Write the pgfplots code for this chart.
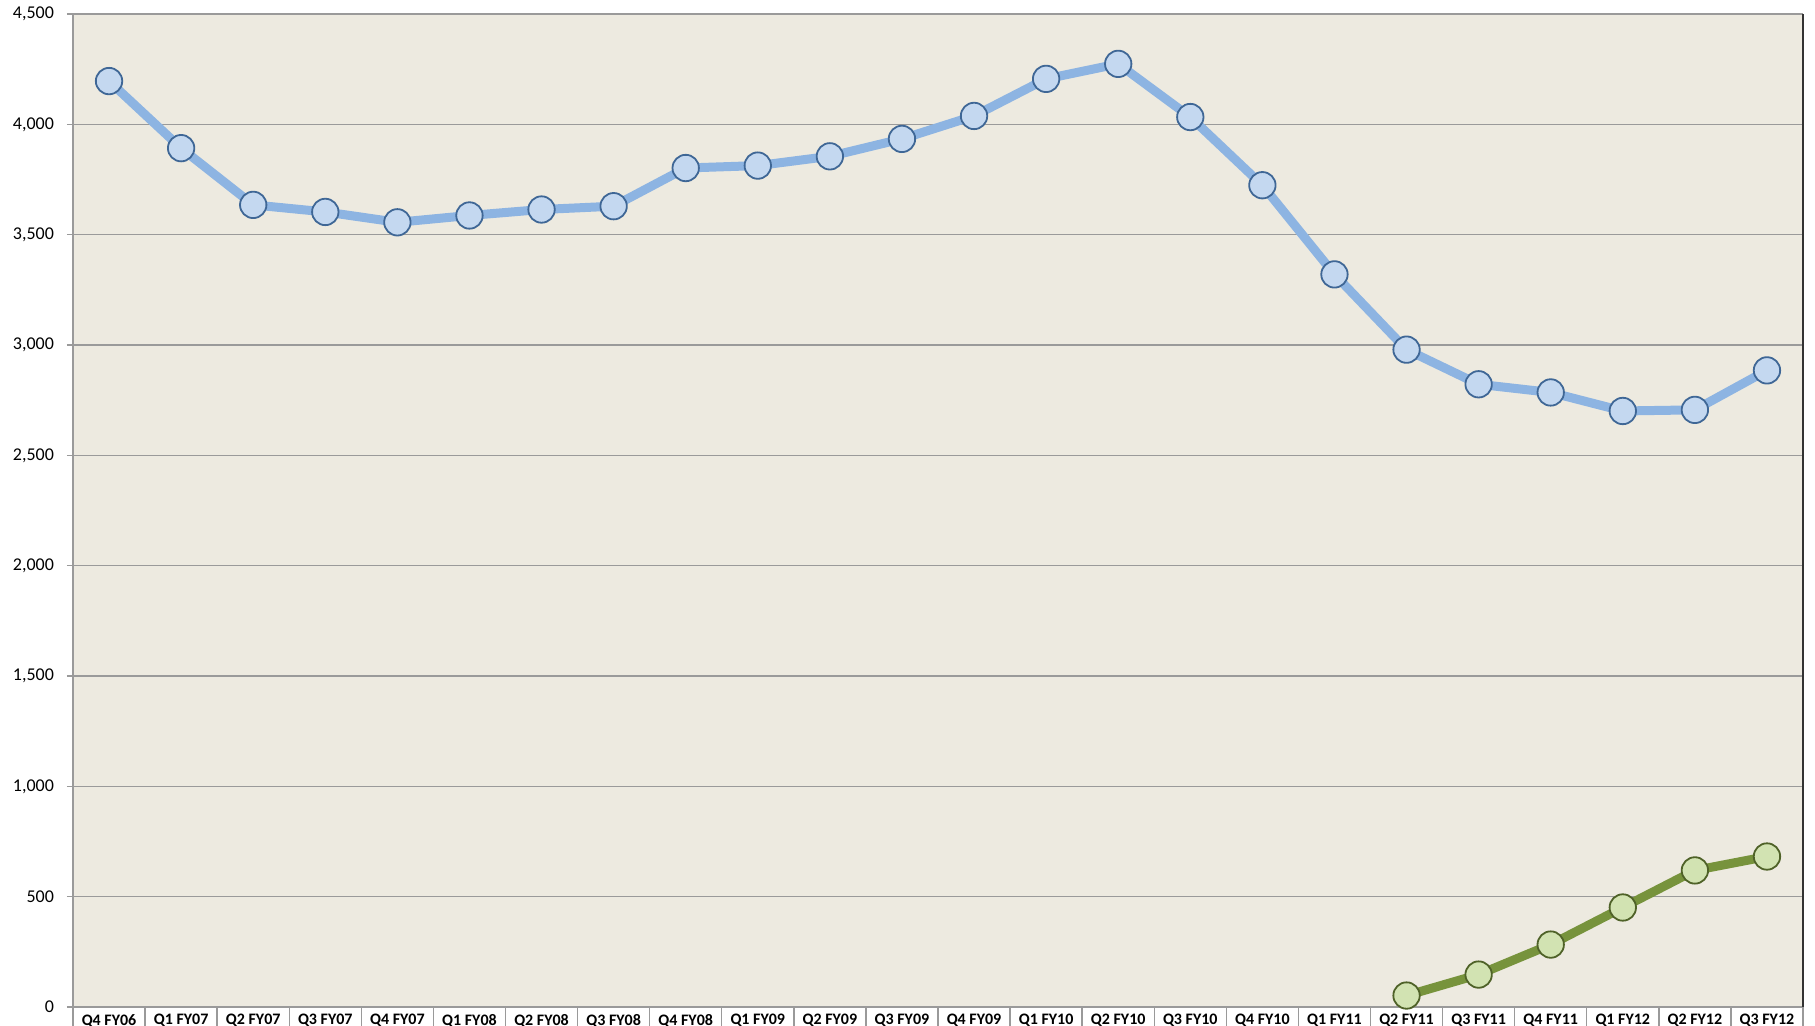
\documentclass[border=0pt]{standalone}
\usepackage{pgfplots}
\pgfplotsset{compat=1.18}
\usepackage{fontspec}
\setmainfont{Carlito}

\definecolor{plotbg}{HTML}{EDEAE0}
\definecolor{gridgray}{HTML}{9A9A9A}
\definecolor{blueline}{HTML}{8DB4E2}
\definecolor{bluefill}{HTML}{C4D8F0}
\definecolor{blueedge}{HTML}{3F6796}
\definecolor{greenline}{HTML}{77933C}
\definecolor{greenfill}{HTML}{D2E3B2}
\definecolor{greenedge}{HTML}{4F6228}

\pgfplotstableread{
x  y
0  4196
1  3892
2  3635
3  3603
4  3556
5  3587
6  3614
7  3629
8  3802
9  3813
10 3855
11 3934
12 4038
13 4206
14 4274
15 4033
16 3724
17 3320
18 2979
19 2822
20 2785
21 2701
22 2706
23 2885
}\seriesA

\pgfplotstableread{
x  y
18 52
19 147
20 283
21 451
22 619
23 682
}\seriesB

\begin{document}
\begin{tikzpicture}
\begin{axis}[
  name=ax,
  scale only axis,
  width=865pt, height=496.5pt,
  xmin=-0.5, xmax=23.5,
  ymin=0, ymax=4500,
  axis background/.style={fill=plotbg},
  axis line style={draw=gridgray, line width=0.8pt},
  axis x line*=bottom,
  axis y line*=left,
  ytick={0,500,...,4500},
  yticklabel style={font=\fontsize{9}{10}\selectfont, xshift=-3pt},
  /pgf/number format/assume math mode=true,
  /pgf/number format/1000 sep={,},
  ymajorgrids,
  grid style={draw=gridgray, line width=0.7pt},
  ytick align=outside, ytick style={draw=gridgray, line width=0.7pt},
  major tick length=3pt,
  xtick={0,...,23},
  xticklabels={Q4 FY06,Q1 FY07,Q2 FY07,Q3 FY07,Q4 FY07,Q1 FY08,Q2 FY08,Q3 FY08,
    Q4 FY08,Q1 FY09,Q2 FY09,Q3 FY09,Q4 FY09,Q1 FY10,Q2 FY10,Q3 FY10,Q4 FY10,
    Q1 FY11,Q2 FY11,Q3 FY11,Q4 FY11,Q1 FY12,Q2 FY12,Q3 FY12},
  xticklabel style={font=\bfseries\fontsize{8}{9}\selectfont, anchor=north,
    inner sep=1pt, yshift=0.5pt},
  x tick style={draw=none},
  minor xtick={-0.5,0.5,...,23.5},
  minor x tick style={draw=gridgray, line width=0.7pt},
  minor tick length=14pt,
  xtick align=outside,
  clip=false,
]
\addplot[blueline, line width=4.5pt, mark=*, mark size=6.6pt,
  mark options={draw=blueedge, fill=bluefill, line width=0.9pt, solid}]
  table[x=x, y=y] {\seriesA};
\addplot[greenline, line width=4.5pt, mark=*, mark size=6.6pt,
  mark options={draw=greenedge, fill=greenfill, line width=0.9pt, solid}]
  table[x=x, y=y] {\seriesB};
\draw[black!80, line width=1pt] (rel axis cs:1,0) -- (rel axis cs:1,1);
\end{axis}
\pgfresetboundingbox
\path (-36.5pt,-9pt) rectangle (871pt,503.5pt);
\end{tikzpicture}
\end{document}
